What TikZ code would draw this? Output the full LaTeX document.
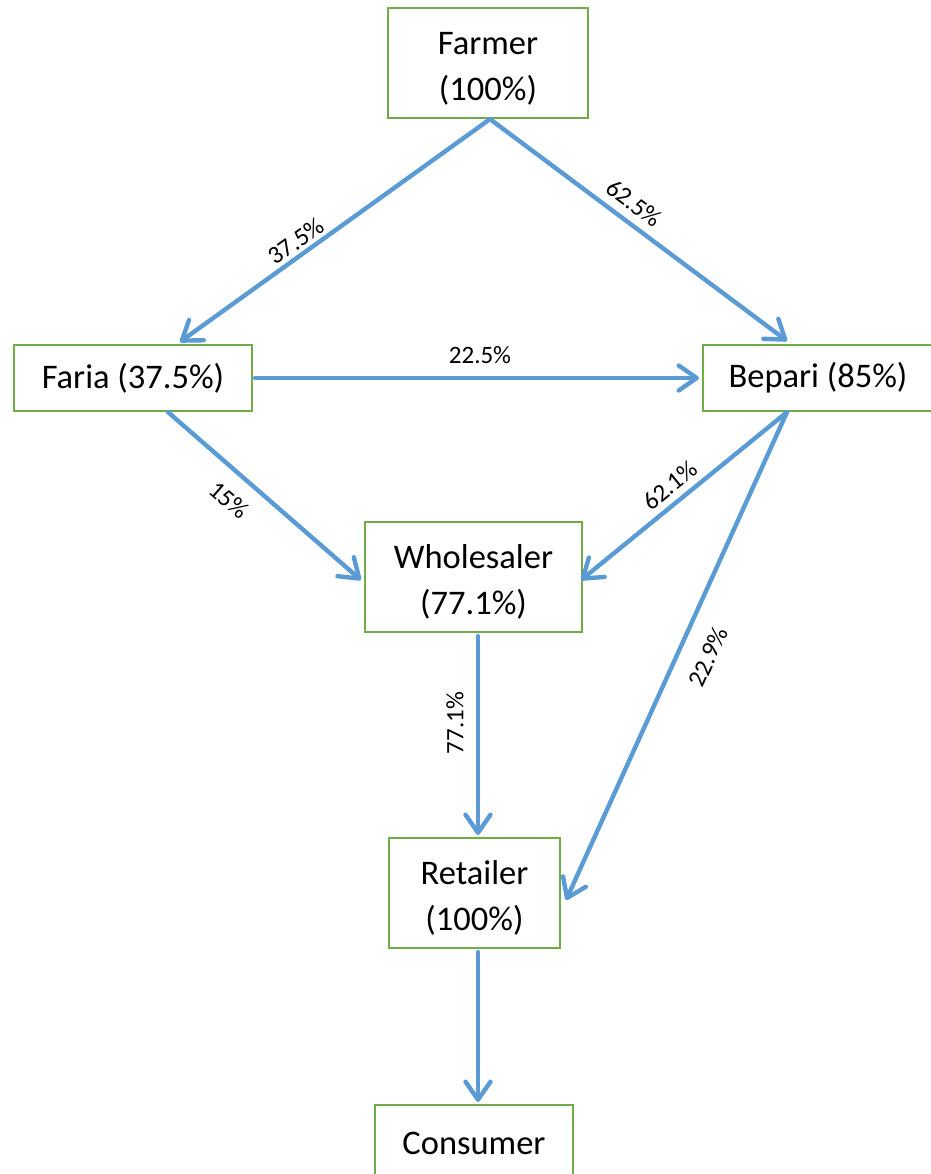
\documentclass[tikz,border=0pt]{standalone}
\usepackage{fontspec}
\setmainfont{Carlito}
\usetikzlibrary{arrows.meta,calc}
\definecolor{lnblue}{HTML}{5B9BD5}
\definecolor{bxgreen}{HTML}{70AD47}
\newcommand{\firstline}{\rule{0pt}{33pt}}
\begin{document}
\begin{tikzpicture}[x=1pt,y=-1pt,
  box/.style={draw=bxgreen,line width=2.2pt,fill=white,align=center,
    font=\fontsize{34.5}{46}\selectfont,inner sep=0pt},
  flow/.style={draw=lnblue,line width=4.4pt,line cap=round,
    -{Straight Barb[length=18pt,width=25pt,round]}},
  lbl/.style={font=\fontsize{25}{30}\selectfont,inner sep=0pt}]
\useasboundingbox[fill=white] (0,0) rectangle (930,1174);
% boxes
\node[box,minimum width=200pt,minimum height=110pt] (farmer) at (488,63) {\firstline Farmer\\(100\%)};
\node[box,minimum width=238pt,minimum height=66pt] (faria) at (133,378) {\raisebox{-2pt}{Faria (37.5\%)}};
\node[box,minimum width=232pt,minimum height=66pt] (bepari) at (819,378) {\hspace*{-2pt}\raisebox{-2pt}{Bepari (85\%)}};
\node[box,minimum width=217pt,minimum height=110pt] (whole) at (473.5,577) {\firstline Wholesaler\\(77.1\%)};
\node[box,minimum width=171pt,minimum height=110pt] (retail) at (474.5,893) {\firstline Retailer\\(100\%)};
\node[box,minimum width=198pt,minimum height=76pt] (consumer) at (474,1143) {Consumer};
% connectors
\draw[flow] ([xshift=2pt]farmer.south) -- ([xshift=47pt,yshift=2pt]faria.north);
\draw[flow] ([xshift=2pt]farmer.south) -- ([xshift=-32pt,yshift=3pt]bepari.north);
\draw[flow] ([xshift=2pt]faria.east) -- ([xshift=-3pt]bepari.west);
\draw[flow] ([xshift=35pt]faria.south) -- ([xshift=-3pt,yshift=-3pt]whole.west);
\draw[flow] ([xshift=-32pt]bepari.south) -- ([xshift=-2pt,yshift=-3pt]whole.east);
\draw[flow] ([xshift=-32pt]bepari.south) -- ([xshift=5pt,yshift=-7pt]retail.east);
\draw[flow] ([xshift=4.5pt,yshift=-3pt]whole.south) -- ([xshift=3.5pt,yshift=2pt]retail.north);
\draw[flow] ([xshift=3.5pt,yshift=-3pt]retail.south) -- ([xshift=4pt,yshift=2pt]consumer.north);
% labels
\node[lbl,rotate=35.4] (l1) at (296,241) {37.5\%};
\node[lbl,rotate=-36.8] (l2) at (634,203) {62.5\%};
\node[lbl] (l3) at (480,355) {22.5\%};
\node[lbl,rotate=-40.9] (l4) at (229,500) {15\%};
\node[lbl,rotate=39.1] (l5) at (670,485) {62.1\%};
\node[lbl,rotate=65.5] (l6) at (708,657) {22.9\%};
\node[lbl,rotate=90] (l7) at (455,723) {77.1\%};
\end{tikzpicture}
\end{document}
